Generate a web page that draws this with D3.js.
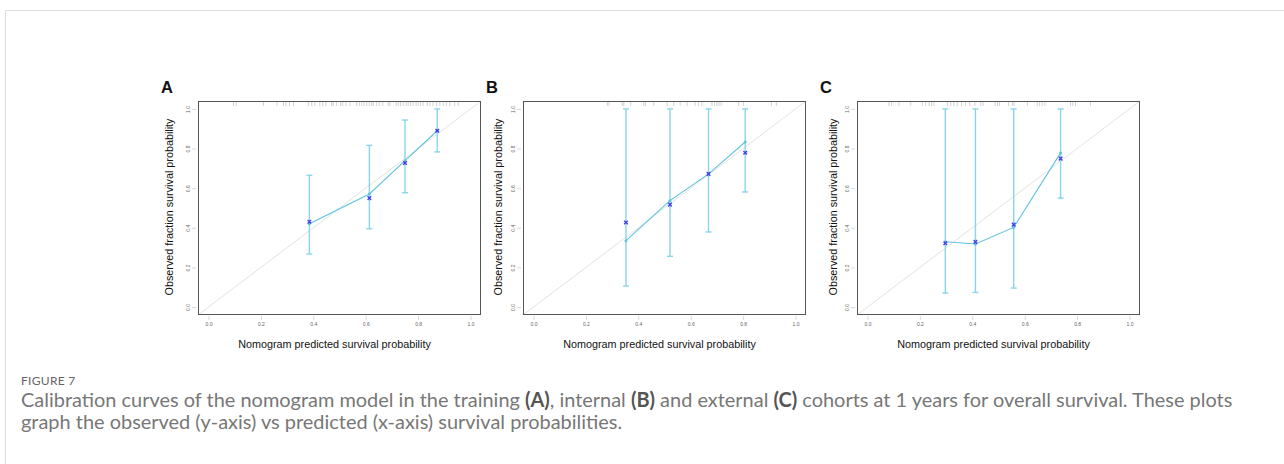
<!DOCTYPE html>
<html>
<head>
<meta charset="utf-8">
<script src="https://cdn.jsdelivr.net/npm/d3@7"></script>
<style>
  html, body { margin: 0; padding: 0; background: #fff; }
  svg { display: block; }
</style>
</head>
<body>
<svg id="chart" width="1284" height="464"></svg>
<script>
// ---------------- data ----------------
const panelLabels = ["A", "B", "C"];
const tickValues = [0.0, 0.2, 0.4, 0.6, 0.8, 1.0];
const tickLabels = ["0.0", "0.2", "0.4", "0.6", "0.8", "1.0"];
const xAxisTitle = "Nomogram predicted survival probability";
const yAxisTitle = "Observed fraction survival probability";

// Panel A (training)
const predA  = [0.385, 0.614, 0.750, 0.873];
const obsA   = [0.420, 0.571, 0.739, 0.890];
const corrA  = [0.431, 0.550, 0.727, 0.890];
const lowerA = [0.268, 0.395, 0.577, 0.783];
const upperA = [0.665, 0.816, 0.944, 1.000];
const rugA = [0.095, 0.106, 0.210, 0.261, 0.286, 0.296, 0.309, 0.324, 0.381, 0.394, 0.406, 0.425, 0.436, 0.448, 0.470, 0.476, 0.489,
  0.505, 0.512, 0.525, 0.540, 0.566, 0.576, 0.585, 0.594, 0.604, 0.614, 0.623, 0.629, 0.642, 0.652, 0.665, 0.686, 0.693, 0.716,
  0.724, 0.733, 0.743, 0.754, 0.762, 0.771, 0.781, 0.792, 0.800, 0.809, 0.819, 0.835, 0.845, 0.857, 0.870, 0.883, 0.896, 0.908,
  0.921, 0.940, 0.953];

// Panel B (internal)
const predB  = [0.353, 0.521, 0.668, 0.808];
const obsB   = [0.335, 0.537, 0.672, 0.833];
const corrB  = [0.427, 0.517, 0.672, 0.779];
const lowerB = [0.106, 0.256, 0.379, 0.581];
const upperB = [1.000, 1.000, 1.000, 1.000];
const rugB = [0.282, 0.288, 0.339, 0.345, 0.371, 0.421, 0.427, 0.459, 0.510, 0.535, 0.560, 0.586, 0.617, 0.630, 0.643, 0.681,
  0.691, 0.700, 0.708, 0.716, 0.782, 0.801, 0.908, 0.927];

// Panel C (external)
const predC  = [0.297, 0.412, 0.558, 0.737];
const obsC   = [0.330, 0.318, 0.402, 0.778];
const corrC  = [0.322, 0.329, 0.416, 0.749];
const lowerC = [0.071, 0.074, 0.096, 0.550];
const upperC = [1.000, 1.000, 1.000, 1.000];
const rugC = [0.082, 0.092, 0.120, 0.165, 0.209, 0.222, 0.235, 0.245, 0.254, 0.305, 0.318, 0.330, 0.343, 0.359, 0.375, 0.390,
  0.410, 0.432, 0.441, 0.487, 0.496, 0.504, 0.538, 0.553, 0.559, 0.610, 0.648, 0.657, 0.667, 0.677, 0.775, 0.784, 0.794, 0.851];

const figureLabel = "FIGURE 7";
const captionLine1 = [
  ["Calibration curves of the nomogram model in the training ", false], ["(A)", true],
  [", internal ", false], ["(B)", true], [" and external ", false], ["(C)", true],
  [" cohorts at 1 years for overall survival. These plots", false]];
const captionLine2 = [["graph the observed (y-axis) vs predicted (x-axis) survival probabilities.", false]];

// ---------------- layout ----------------
const svg = d3.select("#chart");
const W = 1284, H = 464;

// page frame
svg.append("line").attr("x1", 5).attr("x2", W).attr("y1", 10.5).attr("y2", 10.5).attr("stroke", "#dcdcdc");
svg.append("line").attr("x1", 5.5).attr("x2", 5.5).attr("y1", 10).attr("y2", H).attr("stroke", "#dcdcdc");

const panels = [
  {label: panelLabels[0], left: 198, pred: predA, obs: obsA, corr: corrA, lo: lowerA, hi: upperA, rug: rugA, ylabOff: 29},
  {label: panelLabels[1], left: 523, pred: predB, obs: obsB, corr: corrB, lo: lowerB, hi: upperB, rug: rugB, ylabOff: 25},
  {label: panelLabels[2], left: 857, pred: predC, obs: obsC, corr: corrC, lo: lowerC, hi: upperC, rug: rugC, ylabOff: 24.5}
];
const boxW = 283, boxTop = 101, boxBottom = 315;

const lineCol = "#5fc3dc", barCol = "#8ad5e8", blueCol = "#4040f0";
const font = "'Liberation Sans', Arial, sans-serif";

panels.forEach((p, i) => {
  const x = d3.scaleLinear().domain([-0.04, 1.04]).range([p.left, p.left + boxW]);
  const y = d3.scaleLinear().domain([-0.04, 1.04]).range([boxBottom, boxTop]);
  const g = svg.append("g");
  const clipId = "clip" + i;
  svg.append("clipPath").attr("id", clipId).append("rect")
    .attr("x", p.left).attr("y", boxTop).attr("width", boxW).attr("height", boxBottom - boxTop);

  // panel letter
  g.append("text").attr("x", p.left - 37).attr("y", 92.5)
    .attr("font-family", font).attr("font-weight", "bold").attr("font-size", 16.5).attr("fill", "#111")
    .text(p.label);

  // diagonal reference line
  g.append("line").attr("clip-path", `url(#${clipId})`)
    .attr("x1", x(-0.04)).attr("y1", y(-0.04)).attr("x2", x(1.04)).attr("y2", y(1.04))
    .attr("stroke", "#e2e2e2").attr("stroke-width", 1);

  // axes
  const xAxis = d3.axisBottom(x).tickValues(tickValues).tickFormat((d, k) => tickLabels[k]).tickSize(4).tickPadding(2.5);
  const gx = g.append("g").attr("transform", `translate(0,${boxBottom + 1})`).call(xAxis);
  gx.select(".domain").remove();
  gx.selectAll(".tick line").attr("stroke", "#cfcfcf").attr("stroke-width", 0.8);
  gx.selectAll(".tick text").attr("font-family", font).attr("font-size", 5).attr("fill", "#666");

  const yAxis = d3.axisLeft(y).tickValues(tickValues).tickFormat((d, k) => tickLabels[k]).tickSize(4).tickPadding(2);
  const gy = g.append("g").attr("transform", `translate(${p.left - 2},0)`).call(yAxis);
  gy.select(".domain").remove();
  gy.selectAll(".tick line").attr("stroke", "#cfcfcf").attr("stroke-width", 0.8);
  gy.selectAll(".tick text").attr("font-family", font).attr("font-size", 5).attr("fill", "#666")
    .attr("text-anchor", "middle").attr("dy", null).attr("x", null)
    .attr("transform", "translate(-8.5,0) rotate(-90)").attr("dominant-baseline", "central");

  // axis titles
  g.append("text").attr("x", x(0.5) - 5).attr("y", 347.5).attr("text-anchor", "middle")
    .attr("font-family", font).attr("font-size", 10.8).attr("fill", "#111").text(xAxisTitle);
  g.append("text").attr("transform", `translate(${p.left - p.ylabOff},${(boxTop + boxBottom) / 2 - 1}) rotate(-90)`)
    .attr("text-anchor", "middle").attr("dominant-baseline", "central")
    .attr("font-family", font).attr("font-size", 10.8).attr("fill", "#111").text(yAxisTitle);

  // rug at top
  g.selectAll(".rug").data(p.rug).join("line")
    .attr("x1", d => x(d)).attr("x2", d => x(d))
    .attr("y1", boxTop).attr("y2", boxTop + 5)
    .attr("stroke", "#b4b4b4").attr("stroke-width", 0.6);

  // error bars
  const idx = d3.range(p.pred.length);
  const cap = 3;
  const eb = g.append("g").attr("stroke", barCol).attr("stroke-width", 1.4);
  eb.selectAll(".v").data(idx).join("line")
    .attr("x1", k => x(p.pred[k])).attr("x2", k => x(p.pred[k]))
    .attr("y1", k => y(p.lo[k])).attr("y2", k => y(p.hi[k]));
  eb.selectAll(".t").data(idx).join("line")
    .attr("x1", k => x(p.pred[k]) - cap).attr("x2", k => x(p.pred[k]) + cap)
    .attr("y1", k => y(p.hi[k])).attr("y2", k => y(p.hi[k]));
  eb.selectAll(".b").data(idx).join("line")
    .attr("x1", k => x(p.pred[k]) - cap).attr("x2", k => x(p.pred[k]) + cap)
    .attr("y1", k => y(p.lo[k])).attr("y2", k => y(p.lo[k]));

  // calibration line
  const line = d3.line().x(k => x(p.pred[k])).y(k => y(p.obs[k]));
  g.append("path").datum(idx).attr("d", line).attr("fill", "none")
    .attr("stroke", lineCol).attr("stroke-width", 1.1);
  g.selectAll(".dot").data(idx).join("circle")
    .attr("cx", k => x(p.pred[k])).attr("cy", k => y(p.obs[k])).attr("r", 1.5)
    .attr("fill", lineCol);

  // bias-corrected 'x' marks
  const s = 1.8;
  g.selectAll(".xm").data(idx).join("path")
    .attr("d", k => {
      const cx = x(p.pred[k]), cy = y(p.corr[k]);
      return `M${cx - s},${cy - s}L${cx + s},${cy + s}M${cx - s},${cy + s}L${cx + s},${cy - s}`;
    })
    .attr("stroke", blueCol).attr("stroke-width", 1.4).attr("fill", "none");

  // box
  g.append("rect").attr("x", p.left + 0.5).attr("y", boxTop + 0.5).attr("width", boxW - 1).attr("height", boxBottom - boxTop - 1)
    .attr("fill", "none").attr("stroke", "#555").attr("stroke-width", 1);
});

// ---------------- caption ----------------
const capFont = "Lato, 'Open Sans', sans-serif";
svg.append("text").attr("x", 21).attr("y", 384.5)
  .attr("font-family", capFont).attr("font-size", 12).attr("fill", "#666").attr("letter-spacing", 0.3)
  .text(figureLabel);

function captionLine(parts, yPos) {
  const t = svg.append("text").attr("x", 21).attr("y", yPos)
    .attr("font-family", capFont).attr("font-size", 16).attr("fill", "#777");
  parts.forEach(([txt, bold]) => {
    t.append("tspan").attr("font-weight", bold ? "bold" : "normal").attr("fill", bold ? "#555" : "#777").text(txt);
  });
  return t;
}
const l1 = captionLine(captionLine1, 406.5);
const l2 = captionLine(captionLine2, 428.5);
// fit the first caption line to its width in the reference
const targetW = 1212;
const w1 = l1.node().getComputedTextLength();
const fs = 16 * targetW / w1;
l1.attr("font-size", fs);
l2.attr("font-size", fs);
</script>
</body>
</html>
